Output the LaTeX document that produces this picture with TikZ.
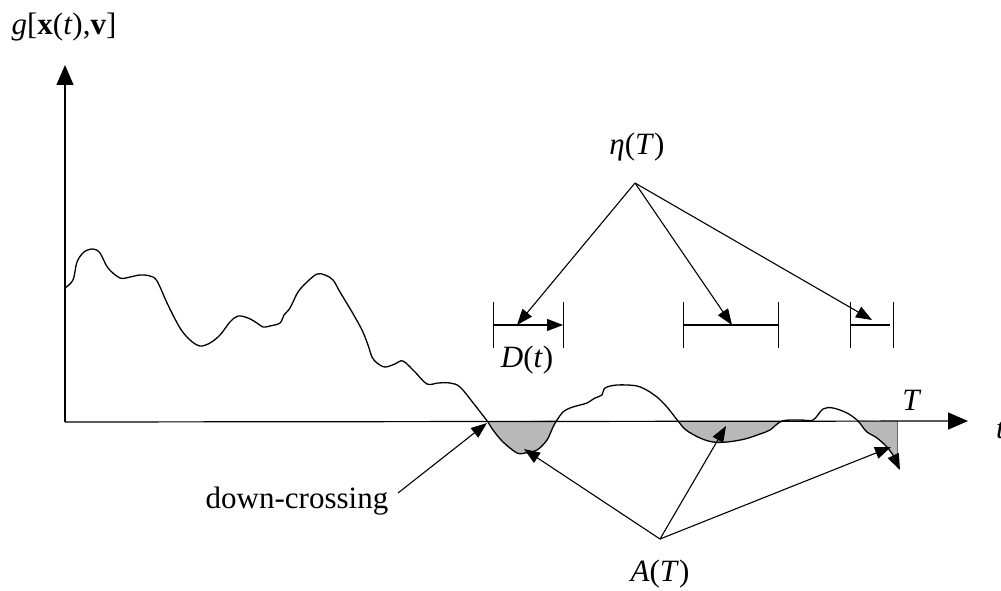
\documentclass[tikz,border=0pt]{standalone}
\usepackage{fontspec}
\setmainfont{Liberation Serif}
\usetikzlibrary{arrows.meta}
\tikzset{
  lbl/.style={inner sep=0pt, font=\fontsize{31}{34}\selectfont},
  bigtip/.style={-{Triangle[length=20pt,width=17pt]}},
  tip/.style={-{Triangle[length=16pt,width=12pt]}},
  curve/.style={line width=1.3pt, line join=round},
  shade/.style={fill=black!28},
  bar/.style={line width=1pt},
  conn/.style={line width=1.1pt}
}
\begin{document}
\begin{tikzpicture}[x=1pt,y=-1pt]
\useasboundingbox (0,0) rectangle (1001,591);
% axes
\coordinate (O) at (65,422);
\coordinate (ytop) at (65,65);
\coordinate (xend) at (968,421);
% shaded regions
\fill[shade] plot[smooth,tension=0.6] coordinates {(488,422) (493,430) (503,442) (517,453) (525,453) (537,450) (547,440) (553,427) (557,420)} -- cycle;
\fill[shade] plot[smooth,tension=0.6] coordinates {(678,421) (686,430) (700,438) (713,442) (727,442) (745,439) (760,434) (770,430) (782,421)} -- cycle;
\fill[shade] plot[smooth,tension=0.6] coordinates {(857,420) (862,426) (867,432) (877,438) (887,447) (893,455)} -- (897,458) -- (897,421) -- cycle;
\draw[line width=0.6pt, black!60] (897,421) -- (897,458);
% axes lines
\draw[line width=1.2pt, bigtip] (O) -- (ytop);
\draw[line width=1.2pt, bigtip] (O) -- (xend);
% curve
\draw[curve] plot[smooth,tension=0.55] coordinates {(65,288) (73,280) (77,262) (84,252) (93,249) (100,253) (108,268) (120,278) (130,277) (140,275) (150,276) (157,281) (168,305) (180,328) (190,340) (200,346) (210,343) (220,335) (230,322) (238,316) (248,318) (257,323) (263,327) (270,326) (280,323) (284,315) (290,308) (298,292) (307,282) (317,274) (325,275) (333,280) (340,292) (352,312) (362,330) (368,345) (372,357) (377,363) (385,367) (395,364) (403,361) (415,372) (427,384) (438,383) (450,383) (460,387) (474,404) (488,422)};
\draw[curve] plot[smooth,tension=0.55] coordinates {(488,422) (493,430) (503,442) (517,453) (525,453) (537,450) (547,440) (553,427) (557,420) (563,412) (570,408) (580,405) (587,403) (595,398) (602,395) (605,388) (617,385) (637,386) (650,392) (657,397) (667,407) (678,421) (686,430) (700,438) (713,442) (727,442) (745,439) (760,434) (770,430) (782,421) (800,420) (813,420) (823,409) (833,408) (847,413) (857,420) (862,426) (867,432) (877,438) (887,447) (893,455)};
\coordinate (cend0) at (893,455);
\coordinate (cend) at (900,470);
\draw[curve, tip] (cend0) -- (cend);
% brackets
\coordinate (b1l) at (493,325); \coordinate (b1r) at (563,325);
\coordinate (b2l) at (683,325); \coordinate (b2r) at (778,325);
\coordinate (b3l) at (850,325); \coordinate (b3r) at (893,325);
\foreach \x in {493,563,683,778,850,893} \draw[bar] (\x,302) -- (\x,348);
\draw[conn, tip] (b1l) -- (b1r);
\draw[conn] (b2l) -- (b2r);
\draw[conn] (b3l) -- (890,325);
% eta arrows
\node[lbl] (eta) at (637,147) {\textit{η}(\textit{T})};
\coordinate (ep) at (635,183);
\coordinate (e1) at (517,325);
\coordinate (e2) at (732,325);
\coordinate (e3) at (872,320);
\draw[conn, tip] (ep) -- (e1);
\draw[conn, tip] (ep) -- (e2);
\draw[conn, tip] (ep) -- (e3);
% A(T) arrows
\node[lbl] (AT) at (660,574) {\textit{A}(\textit{T})};
\coordinate (ap) at (660,539);
\coordinate (a1) at (524,449);
\coordinate (a2) at (726,426);
\coordinate (a3) at (891,447);
\draw[conn, tip] (ap) -- (a1);
\draw[conn, tip] (ap) -- (a2);
\draw[conn, tip] (ap) -- (a3);
% down-crossing
\node[lbl, anchor=base] (dc) at (297,508) {down-crossing};
\coordinate (dcs) at (398,493);
\coordinate (cross) at (487,423);
\draw[conn, tip] (dcs) -- (cross);
% labels
\node[lbl] (glab) at (64,27) {\textit{g}[\textbf{x}(\textit{t}),\textbf{v}]};
\node[lbl] (Dt) at (527,360) {\textit{D}(\textit{t})};
\node[lbl] (Tl) at (912,400) {\textit{T}};
\node[lbl, anchor=west] (tl) at (996,430) {\textit{t}};
\end{tikzpicture}
\end{document}
